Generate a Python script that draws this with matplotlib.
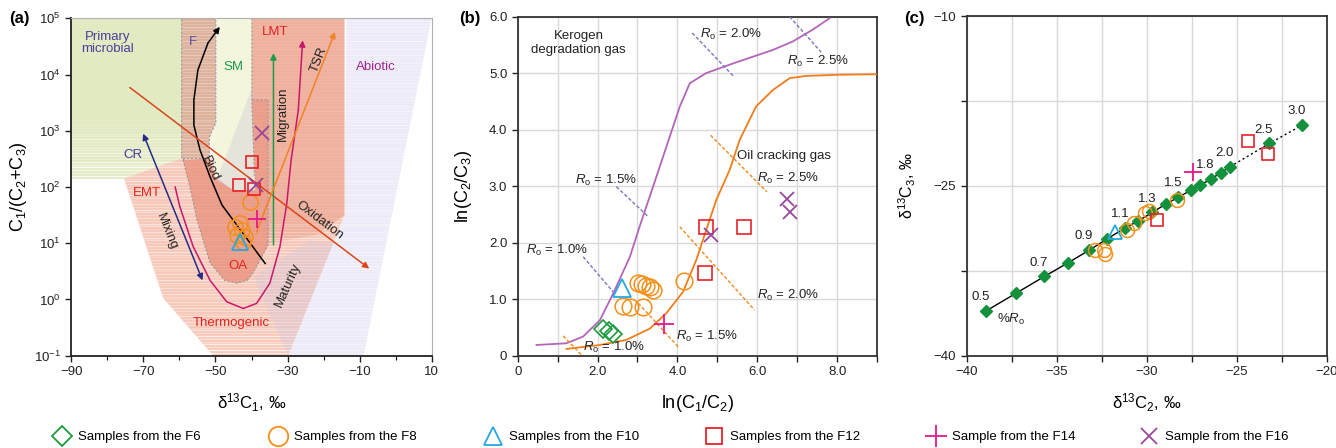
import numpy as np
import matplotlib
matplotlib.use("Agg")
import matplotlib.pyplot as plt
from matplotlib.patches import Polygon
from matplotlib.lines import Line2D
from matplotlib.ticker import MultipleLocator, FixedLocator, NullLocator, FuncFormatter

plt.rcParams["font.family"] = ["Liberation Sans", "DejaVu Sans"]
plt.rcParams["mathtext.fontset"] = "custom"
plt.rcParams["mathtext.rm"] = "Liberation Sans"
plt.rcParams["mathtext.it"] = "Liberation Sans:italic"
plt.rcParams["mathtext.bf"] = "Liberation Sans:bold"
plt.rcParams["font.size"] = 9.5

# sample colours
col_f6 = "#1b9a3e"
col_f8 = "#f39019"
col_f10 = "#25a8e0"
col_f12 = "#e8212a"
col_f14 = "#e8178a"
col_f16 = "#98499c"

# ---------------- (a) C1/(C2+C3) vs d13C1 ----------------
a_f8_x = [-40.4, -44.6, -43.2, -42.7, -41.8, -44.1, -42.3]
a_f8_y = [55, 19.6, 22.5, 17.1, 13.0, 13.9, 10.6]
a_f10_x = [-43.2]
a_f10_y = [10.6]
a_f12_x = [-39.8, -43.4, -39.2]
a_f12_y = [281, 108, 94]
a_f14_x = [-38.6]
a_f14_y = [26.5]
a_f16_x = [-37.2, -38.8]
a_f16_y = [899, 108]

# genetic fields (d13C1, log10 ratio)
field_pm = [(-90, 5), (-59.4, 5), (-59.4, 2.15), (-90, 2.15)]
field_f = [(-59.4, 5), (-49.9, 5), (-49.9, 3.14), (-51.7, 2.89), (-51.7, 2.51), (-59.4, 2.51)]
field_sm = [(-49.7, 5), (-39.9, 5), (-39.9, 3.5), (-39.0, 1.95), (-45.1, 1.95),
            (-50.1, 2.18), (-51.5, 2.89), (-49.7, 3.14)]
field_sm_low = [(-39.9, 3.75), (-49.7, 2.12), (-45.1, 1.95), (-39.0, 1.95), (-39.9, 3.5)]
field_thermo = [(-75.4, 2.15), (-59.4, 2.51), (-49.9, 2.51), (-39.9, 5), (-14.2, 5), (-14.2, 1.5),
                (-17.3, 1.0), (-29.8, -1), (-50.6, -1), (-64.5, 0.02)]
field_lmt = [(-39.9, 5), (-14.2, 5), (-14.2, 1.5), (-22.0, 1.15), (-35.4, 1.0), (-39.9, 1.95)]
field_oa = [(-59.0, 2.48), (-57.1, 2.0), (-55.1, 1.41), (-51.5, 0.65), (-47.4, 0.34), (-44.0, 0.29),
            (-41.2, 0.34), (-39.6, 0.47), (-35.4, 0.97), (-35.4, 3.55), (-39.9, 3.55), (-39.0, 1.95),
            (-45.1, 1.95), (-50.1, 2.18), (-51.7, 2.51)]
field_abiotic = [(-13.6, 5), (10, 5), (-8.9, -1), (-29.8, -1), (-17.3, 1.0), (-14.2, 1.5)]
field_abiotic_in = [(-39.5, 0.4), (-29.8, -1), (-17.3, 1.0), (-24.0, 1.05)]

# trend lines
biod_x = [-36.2, -42.3, -48.2, -51.5, -54.3, -56.0, -56.0, -54.9, -52.1, -48.8]
biod_e = [0.64, 1.17, 1.68, 2.18, 2.66, 3.10, 3.55, 4.08, 4.56, 4.85]
mat_x = [-61.2, -59.9, -56.2, -51.5, -46.9, -42.3, -38.6, -34.9, -32.1, -30.2, -29.0, -27.0, -25.8]
mat_e = [2.0, 1.65, 0.94, 0.34, -0.04, -0.16, -0.07, 0.29, 0.94, 1.71, 2.48, 3.37, 4.61]
cr_line = [(-70.1, 2.95), (-53.6, 0.34)]
ox_line = [(-73.8, 3.77), (-7.3, 0.55)]
mig_line = [(-33.9, 0.97), (-33.9, 4.38)]
tsr_line = [(-38.6, 1.20), (-16.8, 4.76)]

# ---------------- (b) ln(C2/C3) vs ln(C1/C2) ----------------
b_f6_x = [2.14, 2.28, 2.39]
b_f6_y = [0.48, 0.44, 0.38]
b_f8_x = [3.02, 3.12, 3.22, 3.31, 3.39, 2.64, 2.81, 3.14, 4.17]
b_f8_y = [1.28, 1.26, 1.23, 1.21, 1.16, 0.88, 0.87, 0.87, 1.33]
b_f10_x = [2.60]
b_f10_y = [1.19]
b_f12_x = [4.72, 5.67, 4.68]
b_f12_y = [2.27, 2.28, 1.46]
b_f14_x = [3.66]
b_f14_y = [0.56]
b_f16_x = [4.85, 6.75, 6.81]
b_f16_y = [2.14, 2.77, 2.54]

kerogen_x = [0.47, 1.22, 1.64, 2.06, 2.39, 2.81, 3.06, 3.39, 3.81, 4.06, 4.31, 4.72, 5.39, 6.39, 6.89, 7.39, 7.81]
kerogen_y = [0.19, 0.22, 0.34, 0.63, 1.10, 1.75, 2.30, 2.99, 3.88, 4.41, 4.82, 5.00, 5.17, 5.41, 5.56, 5.77, 5.97]
oil_x = [1.22, 2.06, 2.72, 3.31, 3.72, 4.14, 4.47, 4.72, 4.97, 5.31, 5.56, 5.97, 6.39, 6.81, 7.22, 8.0, 9.0]
oil_y = [0.12, 0.19, 0.28, 0.48, 0.75, 1.13, 1.69, 2.22, 2.75, 3.29, 3.82, 4.41, 4.70, 4.91, 4.95, 4.97, 4.98]

ro_labels = ["1.0", "1.5", "2.0", "2.5"]
ker_ro_seg = [[(1.64, 1.75), (2.39, 1.13)], [(2.47, 2.99), (3.27, 2.46)],
              [(4.37, 5.71), (5.41, 4.94)], [(6.81, 6.0), (7.60, 5.37)]]
ker_ro_txt = [(0.98, 1.87), (2.20, 3.10), (5.33, 5.68), (7.52, 5.20)]
oil_ro_seg = [[(1.14, 0.35), (1.60, 0.01)], [(3.02, 0.93), (4.04, 0.14)],
              [(4.06, 2.28), (5.93, 0.81)], [(4.83, 3.90), (6.24, 2.90)]]
oil_ro_txt = [(2.41, 0.14), (4.74, 0.34), (6.77, 1.06), (6.77, 3.14)]

# ---------------- (c) d13C3 vs d13C2 ----------------
ro_model = [0.5, 0.6, 0.7, 0.8, 0.9, 1.0, 1.1, 1.2, 1.3, 1.4, 1.5, 1.6, 1.7, 1.8, 1.9, 2.0, 2.5, 3.0]
ro_c2 = [-38.94, -37.28, -35.69, -34.37, -33.19, -32.19, -31.19, -30.48, -29.69, -28.94, -28.24,
         -27.54, -27.04, -26.44, -25.89, -25.37, -23.20, -21.36]
ro_c3 = [-36.06, -34.50, -33.00, -31.79, -30.67, -29.67, -28.70, -28.10, -27.34, -26.60, -26.00,
         -25.37, -24.93, -24.40, -23.84, -23.31, -21.25, -19.63]
ro_shown = ["0.5", "0.7", "0.9", "1.1", "1.3", "1.5", "1.8", "2.0", "2.5", "3.0"]

c_f8_x = [-32.9, -32.4, -32.3, -31.1, -30.7, -30.1, -29.9, -28.3]
c_f8_y = [-30.7, -30.7, -31.0, -28.9, -28.3, -27.4, -27.2, -26.25]
c_f10_x = [-31.76]
c_f10_y = [-29.05]
c_f12_x = [-29.44, -24.39, -23.28]
c_f12_y = [-28.04, -21.04, -22.2]
c_f14_x = [-27.41]
c_f14_y = [-23.75]


def field(ax, pts, color, z, streak=0.0, fade=None, alpha=1.0):
    """Filled field with white horizontal streaks (fading toward 'fade' bottom)."""
    poly = Polygon([(x, 10 ** e) for x, e in pts], closed=True, fc=color, ec="none",
                   alpha=alpha, zorder=z)
    ax.add_patch(poly)
    if streak <= 0 and fade is None:
        return poly
    e = np.arange(-1.0, 5.0, 0.05)
    a = np.full(e.shape, streak)
    if fade is not None:
        top, bot, amax = fade
        w = np.clip((top - e) / (top - bot), 0, 1)
        a = np.maximum(a, amax * w)
    a = a * (0.5 + 0.5 * ((np.arange(len(e)) * 7) % 5) / 4)
    cols = [(1, 1, 1, min(v, 1.0)) for v in a]
    lc = ax.hlines(10 ** e, -90, 10, colors=cols, lw=1.0, zorder=z + 0.05)
    lc.set_clip_path(poly)
    return poly


def outline(ax, pts, z):
    xs = [p[0] for p in pts] + [pts[0][0]]
    ys = [10 ** p[1] for p in pts] + [10 ** pts[0][1]]
    ax.plot(xs, ys, color="#9a9a9a", lw=0.8, ls=(0, (2, 1.6)), zorder=z)


def arrow(ax, p0, p1, color, lw=1.1, style="-|>", z=6):
    ax.annotate("", xy=p1, xytext=p0, zorder=z,
                arrowprops=dict(arrowstyle=style, color=color, lw=lw, mutation_scale=9,
                                shrinkA=0, shrinkB=0))


fig = plt.figure(figsize=(13.36, 4.48), dpi=100)

# ================= panel (a) =================
ax = fig.add_axes([0.0535, 0.206, 0.2695, 0.753])
ax.set_yscale("log")
ax.set_xlim(-90, 10)
ax.set_ylim(0.1, 1e5)

field(ax, field_abiotic, "#eceaf7", 1, streak=0.45)
field(ax, field_pm, "#e2eac2", 1, fade=(3.3, 2.15, 1.0))
field(ax, field_thermo, "#f7c5b4", 1.2, streak=0.55, fade=(0.8, -1.0, 0.9))
field(ax, field_lmt, "#efb09d", 1.4, streak=0.12, fade=(1.6, 1.0, 0.6))
field(ax, field_abiotic_in, "#c9c6e6", 1.5, alpha=0.3)
field(ax, field_oa, "#eb9c88", 1.6, streak=0.1)
outline(ax, field_oa[:11], 1.7)
field(ax, field_f, "#dcaf98", 1.8, streak=0.35)
field(ax, field_sm, "#f3f5dc", 1.9)
field(ax, field_sm_low, "#d8cfd8", 1.95, alpha=0.45)
outline(ax, field_f, 2.0)
ax.plot([-39.9, -39.9, -39.2], [1e5, 10 ** 3.5, 10 ** 2.2], color="#9a9a9a", lw=0.8,
        ls=(0, (2, 1.6)), zorder=2)

# trends
ax.plot(biod_x[:-1], [10 ** e for e in biod_e[:-1]], color="black", lw=1.1, zorder=5)
arrow(ax, (biod_x[-2], 10 ** biod_e[-2]), (biod_x[-1], 10 ** biod_e[-1]), "black")
ax.plot(mat_x[:-1], [10 ** e for e in mat_e[:-1]], color="#c8186a", lw=1.1, zorder=5)
arrow(ax, (mat_x[-2], 10 ** mat_e[-2]), (mat_x[-1], 10 ** mat_e[-1]), "#c8186a")
arrow(ax, (cr_line[0][0], 10 ** cr_line[0][1]), (cr_line[1][0], 10 ** cr_line[1][1]), "#262c86",
      style="<|-|>")
arrow(ax, (ox_line[0][0], 10 ** ox_line[0][1]), (ox_line[1][0], 10 ** ox_line[1][1]), "#d9461b")
arrow(ax, (mig_line[0][0], 10 ** mig_line[0][1]), (mig_line[1][0], 10 ** mig_line[1][1]), "#1d9a4b")
arrow(ax, (tsr_line[0][0], 10 ** tsr_line[0][1]), (tsr_line[1][0], 10 ** tsr_line[1][1]), "#f08323")

# field names
ax.text(-79.9, 10 ** 4.56, "Primary\nmicrobial", color="#4a3f9b", ha="center", va="center",
        linespacing=1.05, zorder=7)
ax.text(-56.3, 10 ** 4.58, "F", color="#5b4da0", ha="center", va="center", zorder=7)
ax.text(-45.1, 10 ** 4.14, "SM", color="#1d9a4b", ha="center", va="center", zorder=7)
ax.text(-33.5, 10 ** 4.75, "LMT", color="#e42320", ha="center", va="center", zorder=7)
ax.text(-5.4, 10 ** 4.14, "Abiotic", color="#a2238f", ha="center", va="center", zorder=7)
ax.text(-72.8, 10 ** 2.57, "CR", color="#3c3a96", ha="center", va="center", zorder=7)
ax.text(-69.1, 10 ** 1.90, "EMT", color="#e42320", ha="center", va="center", zorder=7)
ax.text(-43.7, 10 ** 0.60, "OA", color="#e42320", ha="center", va="center", zorder=7)
ax.text(-45.5, 10 ** -0.41, "Thermogenic", color="#e42320", ha="center", va="center", zorder=7)
ax.text(-63.6, 10 ** 1.20, "Mixing", color="#222222", ha="center", va="center", rotation=-68, zorder=7)
ax.text(-51.5, 10 ** 2.33, "Biod", color="#222222", ha="center", va="center", rotation=-65, zorder=7)
ax.text(-29.8, 10 ** 0.25, "Maturity", color="#222222", ha="center", va="center", rotation=66, zorder=7)
ax.text(-31.2, 10 ** 3.31, "Migration", color="#222222", ha="center", va="center", rotation=90, zorder=7)
ax.text(-21.4, 10 ** 4.26, "TSR", color="#222222", ha="center", va="center", rotation=68, zorder=7)
ax.text(-21.0, 10 ** 1.41, "Oxidation", color="#222222", ha="center", va="center", rotation=-37, zorder=7)

mk = dict(ls="none", mfc="none", zorder=8)
ax.plot(a_f8_x, a_f8_y, marker="o", ms=11, mec=col_f8, mew=1.1, **mk)
ax.plot(a_f10_x, a_f10_y, marker="^", ms=11, mec=col_f10, mew=1.3, **mk)
ax.plot(a_f12_x, a_f12_y, marker="s", ms=9, mec=col_f12, mew=1.2, **mk)
ax.plot(a_f14_x, a_f14_y, marker="+", ms=13, mec=col_f14, mew=1.3, **mk)
ax.plot(a_f16_x, a_f16_y, marker="x", ms=10, mec=col_f16, mew=1.3, **mk)

ax.xaxis.set_major_locator(FixedLocator([-90, -70, -50, -30, -10, 10]))
ax.xaxis.set_minor_locator(MultipleLocator(10))
ax.yaxis.set_minor_locator(NullLocator())
ax.tick_params(direction="out", length=4, width=1, colors="#222222", labelsize=9.5)
ax.tick_params(which="minor", direction="out", length=3, width=0.8)
for s in ("left", "bottom"):
    ax.spines[s].set_linewidth(1.3)
    ax.spines[s].set_color("#222222")
for s in ("top", "right"):
    ax.spines[s].set_linewidth(0.8)
    ax.spines[s].set_color("#b0b0b0")
ax.set_xlabel("δ$^{13}$C$_1$, ‰", fontsize=12)
ax.set_ylabel("C$_1$/(C$_2$+C$_3$)", fontsize=13)
ax.xaxis.set_label_coords(0.5, -0.105)
ax.yaxis.set_label_coords(-0.118, 0.5)

# ================= panel (b) =================
bx = fig.add_axes([0.3875, 0.206, 0.269, 0.757])
bx.set_xlim(0, 9)
bx.set_ylim(0, 6)
bx.grid(True, which="both", color="#d9d9d9", lw=1.0)
bx.set_axisbelow(True)

bx.plot(kerogen_x, kerogen_y, color="#b366b9", lw=1.3, zorder=3)
bx.plot(oil_x, oil_y, color="#f07d1a", lw=1.3, zorder=3)
ro_txt = "$R_\\mathrm{o}$ = %s%%"
for lab, seg, pos in zip(ro_labels, ker_ro_seg, ker_ro_txt):
    bx.plot([seg[0][0], seg[1][0]], [seg[0][1], seg[1][1]], color="#7b72c4", lw=1.0,
            ls=(0, (2.5, 1.5)), zorder=3)
    bx.text(pos[0], pos[1], ro_txt % lab, ha="center", va="center", color="#222222", zorder=6)
for lab, seg, pos in zip(ro_labels, oil_ro_seg, oil_ro_txt):
    bx.plot([seg[0][0], seg[1][0]], [seg[0][1], seg[1][1]], color="#f08a1a", lw=1.0,
            ls=(0, (2.5, 1.5)), zorder=3)
    bx.text(pos[0], pos[1], ro_txt % lab, ha="center", va="center", color="#222222", zorder=6)
bx.text(1.52, 5.53, "Kerogen\ndegradation gas", ha="center", va="center", linespacing=1.15,
        color="#222222")
bx.text(6.66, 3.54, "Oil cracking gas", ha="center", va="center", color="#222222")

bx.plot(b_f6_x, b_f6_y, marker="D", ms=9, mec=col_f6, mew=1.2, **mk)
bx.plot(b_f8_x, b_f8_y, marker="o", ms=12, mec=col_f8, mew=1.1, **mk)
bx.plot(b_f10_x, b_f10_y, marker="^", ms=13, mec=col_f10, mew=1.3, **mk)
bx.plot(b_f12_x, b_f12_y, marker="s", ms=10, mec=col_f12, mew=1.2, **mk)
bx.plot(b_f14_x, b_f14_y, marker="+", ms=14, mec=col_f14, mew=1.3, **mk)
bx.plot(b_f16_x, b_f16_y, marker="x", ms=10, mec=col_f16, mew=1.3, **mk)

bx.xaxis.set_major_locator(MultipleLocator(2))
bx.xaxis.set_minor_locator(MultipleLocator(1))
bx.yaxis.set_major_locator(MultipleLocator(1))
fmt = FuncFormatter(lambda v, p: "0" if abs(v) < 1e-9 else "%.1f" % v)
bx.xaxis.set_major_formatter(fmt)
bx.yaxis.set_major_formatter(fmt)
bx.tick_params(which="both", direction="out", length=4, width=1, colors="#222222", labelsize=9.5)
for s in bx.spines.values():
    s.set_linewidth(1.3)
    s.set_color("#333333")
bx.set_xlabel("ln(C$_1$/C$_2$)", fontsize=13)
bx.set_ylabel("ln(C$_2$/C$_3$)", fontsize=13)
bx.xaxis.set_label_coords(0.5, -0.11)
bx.yaxis.set_label_coords(-0.122, 0.5)

# ================= panel (c) =================
cx = fig.add_axes([0.7236, 0.206, 0.2695, 0.758])
cx.set_xlim(-40, -20)
cx.set_ylim(-40, -10)
cx.grid(True, which="both", color="#d9d9d9", lw=1.0)
cx.set_axisbelow(True)

cx.plot(ro_c2[:16], ro_c3[:16], color="black", lw=1.0, zorder=3)
cx.plot(ro_c2[15:], ro_c3[15:], color="black", lw=1.0, ls=(0, (1.5, 2)), zorder=3)
cx.plot(ro_c2, ro_c3, ls="none", marker="D", ms=6.5, mfc="#14913c", mec="#14913c", zorder=4)
for ro, x, y in zip(ro_model, ro_c2, ro_c3):
    lab = "%.1f" % ro
    if lab in ro_shown:
        cx.annotate(lab, (x, y), xytext=(-4, 10), textcoords="offset points",
                    ha="center", va="center", color="#222222", zorder=6)
cx.annotate("%$R_\\mathrm{o}$", (ro_c2[0], ro_c3[0]), xytext=(18, -6), textcoords="offset points",
            ha="center", va="center", color="#222222")

cx.plot(c_f8_x, c_f8_y, marker="o", ms=10, mec=col_f8, mew=1.1, **mk)
cx.plot(c_f10_x, c_f10_y, marker="^", ms=10, mec=col_f10, mew=1.3, **mk)
cx.plot(c_f12_x, c_f12_y, marker="s", ms=9, mec=col_f12, mew=1.2, **mk)
cx.plot(c_f14_x, c_f14_y, marker="+", ms=13, mec=col_f14, mew=1.3, **mk)

cx.xaxis.set_major_locator(MultipleLocator(5))
cx.xaxis.set_minor_locator(MultipleLocator(2.5))
cx.set_yticks([-40, -32.5, -25, -17.5, -10])
cx.set_yticklabels(["\u221240", "", "\u221225", "", "\u221210"])
cx.tick_params(which="both", direction="out", length=4, width=1, colors="#222222", labelsize=9.5)
for s in cx.spines.values():
    s.set_linewidth(1.3)
    s.set_color("#333333")
cx.set_xlabel("δ$^{13}$C$_2$, ‰", fontsize=12)
cx.set_ylabel("δ$^{13}$C$_3$, ‰", fontsize=11.5)
cx.xaxis.set_label_coords(0.5, -0.105)
cx.yaxis.set_label_coords(-0.135, 0.5)

# panel tags
for x, tag in [(0.007, "(a)"), (0.344, "(b)"), (0.677, "(c)")]:
    fig.text(x, 0.958, tag, fontsize=12, fontweight="bold", va="center")

# legend row
legend_items = [
    ("Samples from the F6", "D", col_f6, 10, 63),
    ("Samples from the F8", "o", col_f8, 14, 279),
    ("Samples from the F10", "^", col_f10, 13, 494),
    ("Samples from the F12", "s", col_f12, 12, 715),
    ("Sample from the F14", "+", col_f14, 16, 937),
    ("Sample from the F16", "x", col_f16, 12, 1150),
]
for label, m, c, size, xpix in legend_items:
    h = Line2D([], [], ls="none", marker=m, ms=size, mfc="none", mec=c, mew=1.3)
    fig.legend([h], [label], loc="center left", bbox_to_anchor=((xpix - 9) / 1336, 1 - 437 / 448),
               frameon=False, borderpad=0, borderaxespad=0, handlelength=1.2,
               handletextpad=0.6, fontsize=9.5)

fig.savefig("out.png", dpi=100)
